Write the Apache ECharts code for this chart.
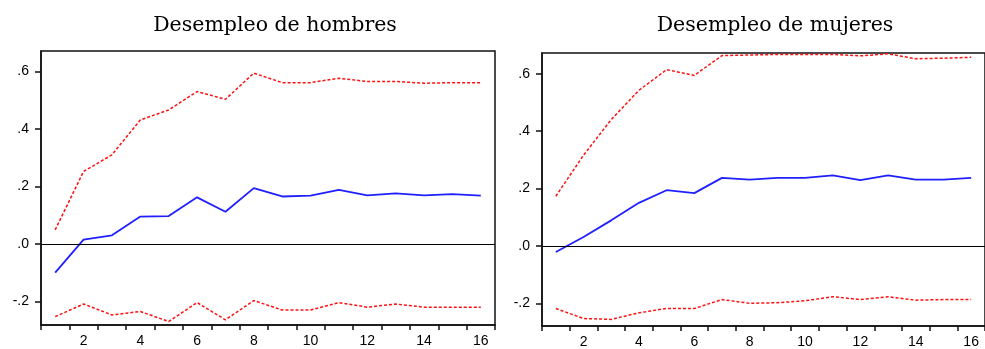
<!DOCTYPE html>
<html>
<head>
<meta charset="utf-8">
<script src="https://cdn.jsdelivr.net/npm/echarts@6/dist/echarts.min.js"></script>
<style>
  html, body { margin: 0; padding: 0; background: #fff; }
  #chart { width: 985px; height: 349px; }
</style>
</head>
<body>
<div id="chart"></div>
<script>
// periodos 1..16
const periods = ['1','2','3','4','5','6','7','8','9','10','11','12','13','14','15','16']
const yTicks = [-0.2, 0, 0.2, 0.4, 0.6]

// Desempleo de hombres
const hombresResp  = [-0.10, 0.015, 0.03, 0.095, 0.097, 0.162, 0.112, 0.194, 0.165, 0.168, 0.188, 0.169, 0.176, 0.169, 0.173, 0.168]
const hombresUpper = [0.049, 0.252, 0.31, 0.431, 0.466, 0.53, 0.503, 0.594, 0.561, 0.561, 0.576, 0.565, 0.565, 0.559, 0.561, 0.561]
const hombresLower = [-0.253, -0.209, -0.247, -0.235, -0.27, -0.204, -0.264, -0.197, -0.23, -0.23, -0.204, -0.22, -0.209, -0.22, -0.22, -0.22]

// Desempleo de mujeres
const mujeresResp  = [-0.021, 0.031, 0.089, 0.15, 0.194, 0.184, 0.237, 0.231, 0.237, 0.237, 0.246, 0.229, 0.246, 0.231, 0.231, 0.237]
const mujeresUpper = [0.173, 0.316, 0.44, 0.542, 0.614, 0.594, 0.663, 0.665, 0.667, 0.667, 0.667, 0.662, 0.669, 0.652, 0.654, 0.657]
const mujeresLower = [-0.218, -0.253, -0.256, -0.233, -0.218, -0.218, -0.187, -0.2, -0.198, -0.191, -0.177, -0.187, -0.177, -0.189, -0.187, -0.187]

let myChart = echarts.init(document.querySelector('#chart'))

function xAxisCfg(gridIndex) {
  return {
    type: 'category',
    gridIndex: gridIndex,
    data: periods,
    boundaryGap: true,
    axisLine: { onZero: false, lineStyle: { color: '#111', width: 1.5 } },
    axisTick: { show: true, interval: 0, length: 5, lineStyle: { color: '#111', width: 1.5 } },
    axisLabel: {
      interval: (idx) => idx % 2 === 1,
      color: '#000',
      fontFamily: 'Liberation Sans',
      fontSize: 14,
      margin: 9
    },
    splitLine: { show: false }
  }
}

function yAxisCfg(gridIndex, min, max) {
  return {
    type: 'value',
    gridIndex: gridIndex,
    min: min,
    max: max,
    axisLine: { show: true, lineStyle: { color: '#111', width: 1.5 } },
    axisTick: { show: true, length: 6, customValues: yTicks, lineStyle: { color: '#111', width: 1.5 } },
    axisLabel: {
      customValues: yTicks,
      color: '#000',
      fontFamily: 'Liberation Sans',
      fontSize: 14,
      margin: 12,
      formatter: v => (v < -1e-9 ? '-' : '') + '.' + Math.round(Math.abs(v) * 10)
    },
    splitLine: { show: false }
  }
}

// linea horizontal en cero
const zeroLine = {
  silent: true,
  symbol: ['none', 'none'],
  label: { show: false },
  lineStyle: { color: '#000', type: 'solid', width: 1.2 },
  data: [{ yAxis: 0 }]
}

function respSeries(data, idx) {
  return {
    type: 'line', data: data, xAxisIndex: idx, yAxisIndex: idx,
    showSymbol: false, symbol: 'none',
    lineStyle: { color: '#2020ff', width: 1.8 },
    markLine: zeroLine,
    z: 3
  }
}
function bandSeries(data, idx) {
  return {
    type: 'line', data: data, xAxisIndex: idx, yAxisIndex: idx,
    showSymbol: false, symbol: 'none',
    lineStyle: { color: '#ff1010', width: 1.5, type: [3, 2] }
  }
}

let option = {
  animation: false,
  backgroundColor: '#fff',
  title: [
    {
      text: 'Desempleo de hombres', left: 270, top: 10, textAlign: 'center',
      textStyle: { fontFamily: 'DejaVu Serif', fontSize: 20.5, fontWeight: 'normal', color: '#000' }
    },
    {
      text: 'Desempleo de mujeres', left: 770, top: 10, textAlign: 'center',
      textStyle: { fontFamily: 'DejaVu Serif', fontSize: 20.5, fontWeight: 'normal', color: '#000' }
    }
  ],
  grid: [
    { left: 41, width: 454, top: 51, height: 274, show: true, borderColor: '#111', borderWidth: 1.5 },
    { left: 542, width: 453, top: 53, height: 273, show: true, borderColor: '#111', borderWidth: 1.5 }
  ],
  xAxis: [xAxisCfg(0), xAxisCfg(1)],
  yAxis: [yAxisCfg(0, -0.282, 0.671), yAxisCfg(1, -0.279, 0.672)],
  series: [
    respSeries(hombresResp, 0),
    bandSeries(hombresUpper, 0),
    bandSeries(hombresLower, 0),
    respSeries(mujeresResp, 1),
    bandSeries(mujeresUpper, 1),
    bandSeries(mujeresLower, 1)
  ]
}
myChart.setOption(option)
</script>
</body>
</html>
